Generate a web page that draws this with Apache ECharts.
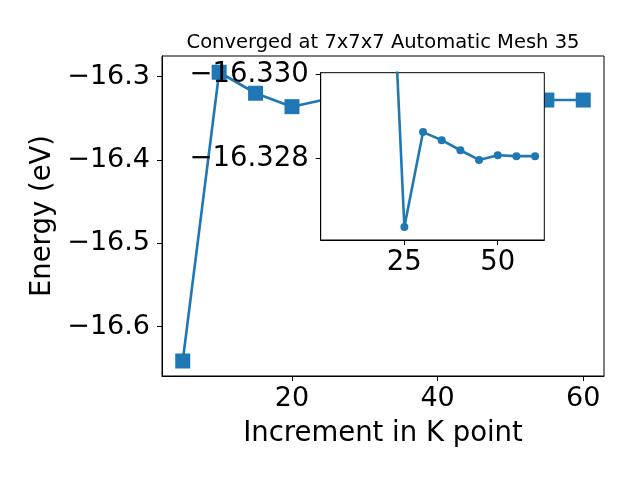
<!DOCTYPE html>
<html>
<head>
<meta charset="utf-8">
<script src="https://cdn.jsdelivr.net/npm/echarts@6/dist/echarts.min.js"></script>
<style>html,body{margin:0;padding:0;background:#fff}#c{width:640px;height:480px}</style>
</head>
<body>
<div id="c"></div>
<script>
const kpoints = [5, 10, 15, 20, 25, 30, 35, 40, 45, 50, 55, 60];
const energies = [-16.6412, -16.2947, -16.3199, -16.3360, -16.32638, -16.32863, -16.32844, -16.32820, -16.32797, -16.32808, -16.32806, -16.32806];
const insetFromK = 20;
const mainXTicks = [20, 40, 60];
const mainYTicks = [-16.6, -16.5, -16.4, -16.3];
const insetXTicks = [25, 50];
const insetYTicks = [-16.330, -16.328];
const titleText = 'Converged at 7x7x7 Automatic Mesh 35';
const xName = 'Increment in K point';
const yName = 'Energy (eV)';

const data = kpoints.map((k, i) => [k, energies[i]]);
const insetData = data.filter(d => d[0] >= insetFromK);
const FONT = 'DejaVu Sans';
const C = '#1f77b4';
const fmt = d => v => (v < 0 ? '\u2212' : '') + Math.abs(v).toFixed(d);

const chart = echarts.init(document.getElementById('c'), null, {renderer: 'canvas'});
const axisCommon = {
  axisLine: {show: true, lineStyle: {color: '#000', width: 1}},
  axisTick: {show: true, inside: false, length: 5, lineStyle: {color: '#000', width: 1}},
  splitLine: {show: false}
};
chart.setOption({
  animation: false,
  backgroundColor: '#fff',
  title: {
    text: titleText, left: 383, top: 33, textAlign: 'center', padding: 0,
    textStyle: {fontFamily: FONT, fontSize: 19.5, fontWeight: 'normal', color: '#000'}
  },
  grid: [
    {left: 162, top: 56, width: 442, height: 320, show: true, borderColor: '#000', borderWidth: 1, backgroundColor: 'transparent', z: 0},
    {left: 320.7, top: 72.7, width: 223.6, height: 167.3, show: true, borderColor: '#000', borderWidth: 1, backgroundColor: '#fff', z: 10}
  ],
  xAxis: [
    Object.assign({}, axisCommon, {
      gridIndex: 0, type: 'value', min: 2.15, max: 62.85,
      axisTick: Object.assign({}, axisCommon.axisTick, {customValues: mainXTicks}),
      axisLabel: {customValues: mainXTicks, fontFamily: FONT, fontSize: 27, color: '#000', margin: 9},
      name: xName, nameLocation: 'middle', nameGap: 44,
      nameTextStyle: {fontFamily: FONT, fontSize: 27.5, color: '#000'}
    }),
    Object.assign({}, axisCommon, {
      gridIndex: 1, type: 'value', min: 2.6, max: 62.47, z: 11,
      axisTick: Object.assign({}, axisCommon.axisTick, {customValues: insetXTicks}),
      axisLabel: {customValues: insetXTicks, fontFamily: FONT, fontSize: 27.5, color: '#000', margin: 9}
    })
  ],
  yAxis: [
    Object.assign({}, axisCommon, {
      gridIndex: 0, type: 'value', min: -16.6592, max: -16.2752,
      axisTick: Object.assign({}, axisCommon.axisTick, {customValues: mainYTicks}),
      axisLabel: {customValues: mainYTicks, formatter: fmt(1), fontFamily: FONT, fontSize: 27, color: '#000', margin: 12},
      name: yName, nameLocation: 'middle', nameGap: 100, nameRotate: 90,
      nameTextStyle: {fontFamily: FONT, fontSize: 27.5, color: '#000'}
    }),
    Object.assign({}, axisCommon, {
      gridIndex: 1, type: 'value', inverse: true, min: -16.33004, max: -16.32607, z: 11,
      axisTick: Object.assign({}, axisCommon.axisTick, {customValues: insetYTicks}),
      axisLabel: {customValues: insetYTicks, formatter: fmt(3), fontFamily: FONT, fontSize: 27.5, color: '#000', margin: 12}
    })
  ],
  series: [
    {type: 'line', xAxisIndex: 0, yAxisIndex: 0, data: data, z: 2,
     symbol: 'rect', symbolSize: 15, lineStyle: {color: C, width: 2.6}, itemStyle: {color: C}},
    {type: 'line', xAxisIndex: 1, yAxisIndex: 1, data: insetData, z: 12, clip: true,
     symbol: 'circle', symbolSize: 8, lineStyle: {color: C, width: 2.6}, itemStyle: {color: C}}
  ]
});
</script>
</body>
</html>
